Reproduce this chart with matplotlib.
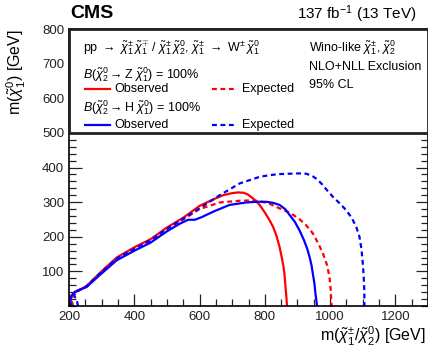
import matplotlib
matplotlib.use("Agg")
import matplotlib.pyplot as plt
from matplotlib.patches import Rectangle
from matplotlib.ticker import MultipleLocator

plt.rcParams['font.family'] = ['Liberation Sans', 'DejaVu Sans']
plt.rcParams['mathtext.fontset'] = 'custom'
plt.rcParams['mathtext.rm'] = 'Liberation Sans'
plt.rcParams['mathtext.it'] = 'Liberation Sans:italic'
plt.rcParams['mathtext.bf'] = 'Liberation Sans:bold'

# exclusion contours (GeV)
wz_obs_x = [201, 203, 206, 213, 230, 254, 295, 346, 401, 450, 499, 550, 600, 640, 672,
            700, 718, 735, 748, 765, 784, 800, 815, 825, 835, 845, 852, 857, 860, 863,
            866, 868]
wz_obs_y = [0, 10, 22, 37, 45, 58, 96, 140, 170, 193, 226, 255, 289, 307, 320,
            326, 328, 327, 322, 310, 292, 270, 247, 229, 205, 171, 140, 115, 94, 60,
            27, 0]

wz_exp_x = [213, 208, 212, 230, 254, 295, 346, 401, 450, 499, 550, 600, 662, 723, 760,
            784, 815, 845, 876, 906, 925, 947, 963, 978, 990, 998, 1002, 1004, 1005]
wz_exp_y = [0, 15, 33, 45, 56, 94, 137, 166, 190, 222, 250, 280, 299, 304, 305,
            303, 295, 282, 270, 251, 235, 210, 182, 152, 120, 85, 45, 8, 0]

wh_obs_x = [207, 204, 206, 218, 254, 295, 346, 401, 450, 499, 540, 565, 585, 605, 641,
            692, 743, 775, 805, 825, 845, 862, 876, 892, 906, 920, 930, 937, 943, 947,
            952, 955, 958, 960]
wh_obs_y = [0, 12, 28, 41, 55, 90, 132, 160, 183, 215, 238, 249, 249, 256, 272,
            292, 299, 301, 301, 298, 292, 280, 263, 243, 219, 190, 165, 142, 118, 94,
            65, 37, 15, 0]

wh_exp_x = [228, 224, 216, 222, 254, 295, 346, 401, 450, 499, 539, 600, 662, 723, 784,
            815, 845, 876, 906, 927, 945, 960, 975, 990, 1008, 1030, 1049, 1066, 1080, 1090,
            1096, 1100, 1103, 1105, 1105]
wh_exp_y = [0, 15, 30, 42, 57, 94, 137, 166, 190, 222, 246, 282, 320, 354, 373,
            378, 381, 382, 383, 382, 376, 366, 352, 335, 316, 296, 277, 255, 229, 200,
            165, 125, 85, 40, 0]

W, H = 428, 352
RED = '#ff0000'
BLUE = '#0000ff'


def fx(px):
    return px / W


def fy(py):
    return 1 - py / H


fig = plt.figure(figsize=(W / 100, H / 100), dpi=100)
ax = fig.add_axes([fx(69), fy(306), fx(428) - fx(69), fy(29) - fy(306)])

dash = (0, (2.2, 1.6))
ax.plot(wz_obs_x, wz_obs_y, color=RED, lw=1.6)
ax.plot(wz_exp_x, wz_exp_y, color=RED, lw=1.6, linestyle=dash)
ax.plot(wh_obs_x, wh_obs_y, color=BLUE, lw=1.6)
ax.plot(wh_exp_x, wh_exp_y, color=BLUE, lw=1.6, linestyle=dash)

ax.set_xlim(200, 1300)
ax.set_ylim(0, 800)
ax.xaxis.set_major_locator(MultipleLocator(200))
ax.xaxis.set_minor_locator(MultipleLocator(50))
ax.yaxis.set_major_locator(MultipleLocator(100))
ax.yaxis.set_minor_locator(MultipleLocator(20))
ax.set_yticks([100, 200, 300, 400, 500, 600, 700, 800])
ax.tick_params(which='both', direction='in', top=True, right=True, labelsize=9.5,
               colors='#222222', width=0.9)
ax.tick_params(which='major', length=9)
ax.tick_params(which='minor', length=5)
for s in ax.spines.values():
    s.set_linewidth(1.2)

# legend box covering the upper part of the frame
ax.add_patch(Rectangle((200, 500), 1100, 300, facecolor='white', edgecolor='#222222',
                       lw=2, zorder=5, clip_on=False))

fig.text(fx(70), fy(14), 'CMS', fontsize=14, fontweight='bold', va='center', ha='left')
fig.text(fx(417), fy(14), '137 fb$^{-1}$ (13 TeV)', fontsize=11, va='center', ha='right')
fig.text(fx(426), fy(336), r'm($\tilde{\chi}^{\pm}_{1}/\tilde{\chi}^{0}_{2}$) [GeV]',
         fontsize=11.5, va='center', ha='right')
fig.text(fx(16), fy(29), r'm($\tilde{\chi}^{0}_{1}$) [GeV]', fontsize=11.5,
         rotation=90, va='top', ha='center')

leg = dict(fontsize=9, va='center', ha='left', zorder=6)
fig.text(fx(83), fy(48),
         r'pp $\rightarrow$ $\tilde{\chi}^{\pm}_{1}\,\tilde{\chi}^{\mp}_{1}$ / '
         r'$\tilde{\chi}^{\pm}_{1}\,\tilde{\chi}^{0}_{2}$, $\tilde{\chi}^{\pm}_{1}$ $\rightarrow$ '
         r'W$^{\pm}\,\tilde{\chi}^{0}_{1}$', **leg)
fig.text(fx(83), fy(75), r'$B$($\tilde{\chi}^{0}_{2}\rightarrow$Z $\tilde{\chi}^{0}_{1}$) = 100%', **leg)
fig.text(fx(83), fy(108), r'$B$($\tilde{\chi}^{0}_{2}\rightarrow$H $\tilde{\chi}^{0}_{1}$) = 100%', **leg)

for py, col in [(89, RED), (125, BLUE)]:
    fig.add_artist(plt.Line2D([fx(85), fx(110)], [fy(py), fy(py)], color=col, lw=1.6))
    fig.add_artist(plt.Line2D([fx(212), fx(237)], [fy(py), fy(py)], color=col, lw=1.6,
                              linestyle=dash))
    fig.text(fx(114), fy(py), 'Observed', **leg)
    fig.text(fx(242), fy(py), 'Expected', **leg)

fig.text(fx(309), fy(48), r'Wino-like $\tilde{\chi}^{\pm}_{1}$, $\tilde{\chi}^{0}_{2}$', **leg)
fig.text(fx(309), fy(67), 'NLO+NLL Exclusion', **leg)
fig.text(fx(309), fy(85), '95% CL', **leg)

fig.savefig('out.png', dpi=100)
